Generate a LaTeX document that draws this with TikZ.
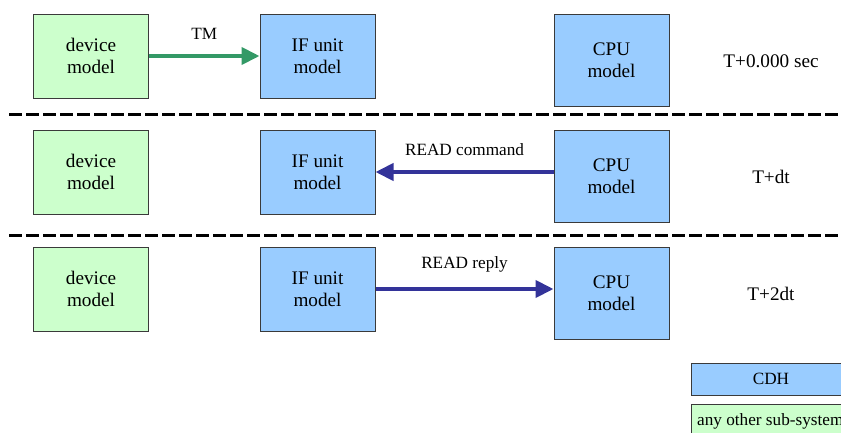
\documentclass[tikz,border=0pt]{standalone}
\usepackage{fontspec}
\setmainfont{Liberation Serif}
\usetikzlibrary{arrows.meta}
\definecolor{subfill}{HTML}{CCFFCC}
\definecolor{cdhfill}{HTML}{99CCFF}
\definecolor{tmgreen}{HTML}{339966}
\definecolor{cmdblue}{HTML}{333399}
\definecolor{edge}{HTML}{3A3A3A}
\tikzset{
  x=1bp, y=-1bp,
  unitbox/.style={draw=edge, line width=1bp, minimum width=115bp, align=center,
    inner sep=0pt, font=\fontsize{19.2bp}{21.5bp}\selectfont},
  devbox/.style={unitbox, fill=subfill, minimum height=84bp},
  ifbox/.style={unitbox, fill=cdhfill, minimum height=84bp},
  cpubox/.style={unitbox, fill=cdhfill, minimum height=92bp},
  timelabel/.style={font=\fontsize{19.2bp}{21.5bp}\selectfont},
  msglabel/.style={font=\fontsize{17.2bp}{19bp}\selectfont},
  msgarrow/.style={line width=4bp, -{Triangle[length=18bp,width=17bp]}},
  divider/.style={line width=3bp, dash pattern=on 12.5bp off 4.5bp},
}
\begin{document}
\begin{tikzpicture}
\clip (0,0) rectangle (841,432);
\useasboundingbox (0,0) rectangle (841,432);

% row 1: T+0.000 sec
\node[devbox] (dev1) at (91,56) {device\\model};
\node[ifbox]  (if1)  at (317.5,56) {IF unit\\model};
\node[cpubox] (cpu1) at (611.5,60) {CPU\\model};
\node[timelabel] (t1) at (771,61) {T+0.000 sec};
\draw[msgarrow, tmgreen] (dev1.east) -- (if1.west)
  node[midway, above=11bp, black, msglabel] (tm) {TM};

\coordinate (d1a) at (9,114);
\coordinate (d1b) at (841,114);
\draw[divider] (d1a) -- (d1b);

% row 2: T+dt
\node[devbox] (dev2) at (91,172) {device\\model};
\node[ifbox]  (if2)  at (317.5,172) {IF unit\\model};
\node[cpubox] (cpu2) at (611.5,176) {CPU\\model};
\node[timelabel] (t2) at (771,177) {T+dt};
\coordinate (c2) at (cpu2.west |- if2.east);
\draw[msgarrow, cmdblue] (c2) -- (if2.east)
  node[midway, above=11bp, black, msglabel] (rc) {READ command};

\coordinate (d2a) at (9,235);
\coordinate (d2b) at (841,235);
\draw[divider] (d2a) -- (d2b);

% row 3: T+2dt
\node[devbox] (dev3) at (91,289) {device\\model};
\node[ifbox]  (if3)  at (317.5,289) {IF unit\\model};
\node[cpubox] (cpu3) at (611.5,293) {CPU\\model};
\node[timelabel] (t3) at (771,294) {T+2dt};
\coordinate (c3) at (cpu3.west |- if3.east);
\draw[msgarrow, cmdblue] (if3.east) -- (c3)
  node[midway, above=11bp, black, msglabel] (rr) {READ reply};

% legend
\draw[draw=edge, line width=1bp, fill=cdhfill] (691,363) rectangle (870,395);
\node[msglabel] (lcdh) at (771,379) {CDH};
\draw[draw=edge, line width=1bp, fill=subfill] (691,404) rectangle (870,450);
\node[msglabel, anchor=west, inner sep=0pt] (lsub) at (697,421) {any other sub-system};
\end{tikzpicture}
\end{document}
